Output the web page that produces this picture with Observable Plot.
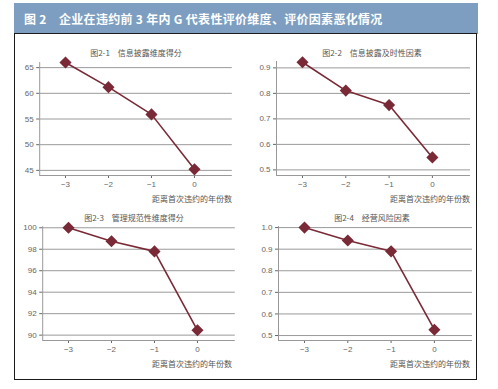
<!DOCTYPE html>
<html><head><meta charset="utf-8">
<script src="https://cdn.jsdelivr.net/npm/d3@7"></script>
<script src="https://cdn.jsdelivr.net/npm/@observablehq/plot@0.6"></script>
<style>
html,body{margin:0;padding:0;background:#fff;}
#wrap{position:relative;width:498px;height:389px;overflow:hidden;font-family:"Liberation Sans","Noto Sans CJK SC",sans-serif;}
#head{position:absolute;left:14px;top:3px;width:464px;height:31px;background:#7d9ec0;color:#fff;font-weight:bold;font-size:12px;line-height:31px;box-sizing:border-box;padding-left:10px;letter-spacing:0.3px;font-family:"Noto Sans CJK SC","Liberation Sans",sans-serif;}
#box{position:absolute;left:14px;top:33px;width:463px;height:347px;border:1.5px solid #1a1a1a;box-sizing:border-box;}
.pt{position:absolute;font-size:8px;color:#555;white-space:nowrap;transform:translate(-50%,-50%);font-family:"Noto Sans CJK SC","Liberation Sans",sans-serif;}
.xl{position:absolute;font-size:8px;color:#555;white-space:nowrap;transform:translate(-100%,-50%);font-family:"Noto Sans CJK SC","Liberation Sans",sans-serif;}
.pl{position:absolute;}
</style></head>
<body><div id="wrap"></div>
<script>
const years = [-3, -2, -1, 0];
const xTicks = [-3, -2, -1, 0];
const disclosureScore = [66.0, 61.2, 55.9, 45.2];
const disclosureTimeliness = [0.922, 0.811, 0.754, 0.549];
const governanceScore = [100.0, 98.75, 97.8, 90.45];
const operatingRisk = [1.0, 0.94, 0.89, 0.527];
const yTicks1 = [45, 50, 55, 60, 65];
const yTicks2 = [0.5, 0.6, 0.7, 0.8, 0.9];
const yTicks3 = [90, 92, 94, 96, 98, 100];
const yTicks4 = [0.5, 0.6, 0.7, 0.8, 0.9, 1.0];
const mainTitle = "图 2　企业在违约前 3 年内 G 代表性评价维度、评价因素恶化情况";
const panelTitles = ["图2-1　信息披露维度得分", "图2-2　信息披露及时性因素", "图2-3　管理规范性维度得分", "图2-4　经营风险因素"];
const xLabel = "距离首次违约的年份数";

const wrap = document.getElementById("wrap");
wrap.innerHTML = `<div id="head">${mainTitle}</div><div id="box"></div>`;

const lineColor = "#7a2a36";
const gridColor = "#9a9a9a";
const xDomain = [-3.6, 0.88];

const panels = [
  {vals: disclosureScore, ticks: yTicks1, fmt: d3.format("d"), domain: [44, 66],
   left: 14, top: 40, width: 234, height: 160, ml: 25.2, mr: 16.2, mt: 22, mb: 25,
   title: [136, 52], xl: [232, 198]},
  {vals: disclosureTimeliness, ticks: yTicks2, fmt: d3.format(".1f"), domain: [0.478, 0.925],
   left: 248, top: 40, width: 229, height: 160, ml: 28, mr: 7, mt: 21, mb: 25,
   title: [372, 52], xl: [470, 198]},
  {vals: governanceScore, ticks: yTicks3, fmt: d3.format("d"), domain: [89.5, 100.1],
   left: 14, top: 205, width: 234, height: 160, ml: 28.2, mr: 13.2, mt: 21.2, mb: 25,
   title: [134, 217], xl: [232, 363]},
  {vals: operatingRisk, ticks: yTicks4, fmt: d3.format(".1f"), domain: [0.477, 1.005],
   left: 248, top: 205, width: 229, height: 160, ml: 30, mr: 5, mt: 21, mb: 25,
   title: [372, 217], xl: [470, 363]}
];

panels.forEach((p, i) => {
  const data = years.map((x, j) => ({x, y: p.vals[j]}));
  const chart = Plot.plot({
    width: p.width, height: p.height,
    marginLeft: p.ml, marginRight: p.mr, marginTop: p.mt, marginBottom: p.mb,
    style: {fontSize: "8px", color: "#666", fontFamily: "Liberation Sans, sans-serif", background: "transparent", overflow: "visible"},
    x: {domain: xDomain, ticks: xTicks, tickFormat: d3.format("d"), label: null, tickSize: 3, tickPadding: 3},
    y: {domain: p.domain, ticks: p.ticks, tickFormat: p.fmt, label: null, tickSize: 3, tickPadding: 3},
    marks: [
      Plot.ruleY(p.ticks, {stroke: gridColor, strokeWidth: 1}),
      Plot.ruleX([xDomain[0]], {stroke: "#999", strokeWidth: 1}),
      Plot.ruleY([p.domain[0]], {stroke: "#999", strokeWidth: 1}),
      Plot.line(data, {x: "x", y: "y", stroke: lineColor, strokeWidth: 1.6}),
      Plot.dot(data, {x: "x", y: "y", symbol: "diamond2", r: 4.5, fill: lineColor, stroke: lineColor})
    ]
  });
  chart.classList.add("pl");
  chart.style.left = p.left + "px";
  chart.style.top = p.top + "px";
  wrap.appendChild(chart);
  const t = document.createElement("div");
  t.className = "pt"; t.textContent = panelTitles[i];
  t.style.left = p.title[0] + "px"; t.style.top = p.title[1] + "px";
  wrap.appendChild(t);
  const xl = document.createElement("div");
  xl.className = "xl"; xl.textContent = xLabel;
  xl.style.left = p.xl[0] + "px"; xl.style.top = p.xl[1] + "px";
  wrap.appendChild(xl);
});
</script></body></html>
